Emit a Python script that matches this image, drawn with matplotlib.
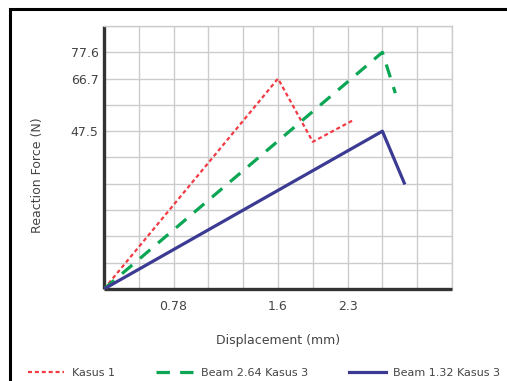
import numpy as np
import matplotlib
matplotlib.use("Agg")
import matplotlib.pyplot as plt
from matplotlib.patches import Rectangle
from matplotlib.ticker import NullFormatter

# values
kasus1_x = [0, 1.6, 1.95, 2.36]
kasus1_y = [0, 66.7, 44.3, 51.6]
beam264_x = [0, 2.65, 2.78]
beam264_y = [0, 77.6, 61.4]
beam132_x = [0, 2.65, 2.87]
beam132_y = [0, 47.5, 31.9]

x_ticks = [0.78, 1.6, 2.3]
y_ticks = [47.5, 66.7, 77.6]

# the original axes are not linear: tick values sit on chosen grid lines
x_anchor = [0, 0.78, 1.6, 2.3, 3.35]
y_anchor = [0, 47.5, 66.7, 77.6, 88.5]
x_grid = [0, 2, 5, 7, 10]
y_grid = [0, 6, 8, 9, 10]


def fwd_x(v):
    return np.interp(v, x_anchor, x_grid)


def inv_x(g):
    return np.interp(g, x_grid, x_anchor)


def fwd_y(v):
    return np.interp(v, y_anchor, y_grid)


def inv_y(g):
    return np.interp(g, y_grid, y_anchor)


fig = plt.figure(figsize=(5.07, 3.81), dpi=100)
ax = fig.add_axes([104 / 507, 1 - 289 / 381, 348 / 507, 263 / 381])

ax.set_xscale("function", functions=(fwd_x, inv_x))
ax.set_yscale("function", functions=(fwd_y, inv_y))
ax.set_xlim(0, x_anchor[-1])
ax.set_ylim(0, y_anchor[-1])

ax.plot(kasus1_x, kasus1_y, color="#f23a44", lw=1.6, dashes=(1.8, 1.3),
        label="Kasus 1", zorder=3)
ax.plot(beam264_x, beam264_y, color="#0aa654", lw=2.3, dashes=(4.2, 3.2),
        label="Beam 2.64 Kasus 3", zorder=3)
ax.plot(beam132_x, beam132_y, color="#3b3b93", lw=2.3,
        label="Beam 1.32 Kasus 3", zorder=3)

ax.set_xticks(x_ticks)
ax.set_xticklabels([str(t) for t in x_ticks])
ax.set_yticks(y_ticks)
ax.set_yticklabels([str(t) for t in y_ticks])
ax.set_xticks(inv_x(np.arange(11)), minor=True)
ax.set_yticks(inv_y(np.arange(11)), minor=True)
ax.xaxis.set_minor_formatter(NullFormatter())
ax.yaxis.set_minor_formatter(NullFormatter())
ax.tick_params(which="both", length=0, labelsize=9, labelcolor="#444444")
ax.tick_params(axis="x", pad=8)
ax.tick_params(axis="y", pad=4)
ax.grid(which="both", color="#cccccc", lw=1.0)
ax.set_axisbelow(True)

for s in ["left", "bottom"]:
    ax.spines[s].set_color("#333333")
    ax.spines[s].set_linewidth(2.4)
    ax.spines[s].set_capstyle("butt")
for s in ["top", "right"]:
    ax.spines[s].set_color("#cccccc")
    ax.spines[s].set_linewidth(1.0)

ax.set_xlabel("Displacement (mm)", fontsize=9, color="#444444")
ax.xaxis.set_label_coords(0.5, -0.17)
ax.set_ylabel("Reaction Force (N)", fontsize=9, color="#444444")
ax.yaxis.set_label_coords(-0.172, 0.433)

fig.legend(loc="center", bbox_to_anchor=(0.521, 0.021), ncol=3, frameon=False,
           fontsize=8, handlelength=3.3, handletextpad=0.7, columnspacing=3.7,
           labelcolor="#444444")

# outer frame (only left and top edges fall inside the image)
fig.patches.append(Rectangle((10 / 507, -0.2), 1.2, 1.2 - 9 / 381,
                             transform=fig.transFigure, fill=False,
                             edgecolor="black", lw=2.2))

fig.savefig("out.png", dpi=100)
